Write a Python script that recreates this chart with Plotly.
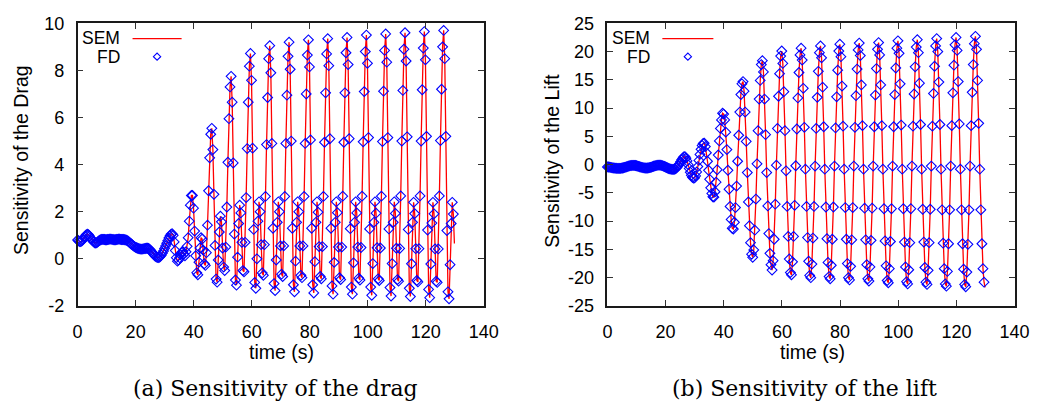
import numpy as np
import plotly.graph_objects as go

# Sampling interval of the stored time series (s)
DT = 0.37

# --- Sensitivity of the drag (SEM curve); FD samples coincide with it ---
drag_start = [
    0.80, 0.76, 0.73, 0.73, 0.76, 0.82, 0.89, 0.96, 1.02, 1.05, 1.03, 0.97, 0.90, 0.83, 0.77,
    0.72, 0.68, 0.67, 0.69, 0.73, 0.77, 0.80, 0.82,
    0.83, 0.83, 0.82, 0.81, 0.81, 0.82, 0.83, 0.84, 0.84, 0.83, 0.82, 0.81, 0.81, 0.82, 0.83,
    0.84, 0.84, 0.83, 0.82, 0.82, 0.82, 0.81,
    0.80, 0.78, 0.75, 0.71, 0.67, 0.63, 0.59, 0.55, 0.52, 0.49, 0.47, 0.45, 0.43, 0.42, 0.41,
    0.41, 0.42, 0.43, 0.44, 0.45, 0.45, 0.44, 0.41, 0.36, 0.30, 0.24, 0.18, 0.13, 0.09, 0.06, 0.05,
    0.06, 0.10, 0.16, 0.24, 0.33, 0.44, 0.55, 0.66, 0.77, 0.88, 0.97, 1.04, 1.07,
    1.00, 0.72, 0.35, 0.05, -0.10, -0.05, 0.05, 0.18, 0.28, 0.30, 0.20, 0.13, 0.30, 0.53, 0.90,
    1.60, 2.28, 2.69, 2.69, 2.15, 1.18, 0.13, -0.59, -0.68, -0.14, 0.46, 0.90, 0.84, 0.37, -0.21,
    -0.28, 0.26, 1.43, 2.89, 4.29, 5.29,
]
drag_cycles = [
    [5.54, 4.64, 2.74, 0.57, -0.86, -0.99, -0.05, 1.14, 1.81, 1.57, 0.46, -0.35, -0.50, 0.50, 2.20, 4.10, 5.95, 7.30],
    [7.75, 6.65, 4.07, 1.05, -0.90, -1.12, 0.07, 1.50, 2.28, 1.95, 0.70, -0.50, -0.55, 0.70, 2.60, 4.68, 6.65, 8.18],
    [8.72, 7.58, 4.70, 1.25, -1.00, -1.25, 0.00, 1.60, 2.42, 2.00, 0.60, -0.60, -0.70, 0.60, 2.65, 4.85, 6.85, 8.50],
    [9.05, 7.90, 4.90, 1.30, -1.05, -1.35, -0.05, 1.55, 2.42, 2.00, 0.55, -0.65, -0.75, 0.55, 2.65, 4.90, 6.95, 8.60],
    [9.20, 8.05, 5.00, 1.30, -1.10, -1.40, -0.10, 1.55, 2.42, 2.00, 0.55, -0.70, -0.80, 0.55, 2.65, 4.90, 7.00, 8.65],
    [9.30, 8.15, 5.05, 1.30, -1.10, -1.45, -0.12, 1.55, 2.42, 1.98, 0.52, -0.75, -0.85, 0.52, 2.65, 4.95, 7.05, 8.70],
    [9.35, 8.20, 5.10, 1.30, -1.15, -1.50, -0.15, 1.55, 2.42, 1.96, 0.50, -0.80, -0.88, 0.50, 2.66, 4.95, 7.05, 8.75],
    [9.40, 8.25, 5.10, 1.28, -1.20, -1.50, -0.17, 1.55, 2.42, 1.95, 0.50, -0.82, -0.90, 0.48, 2.66, 4.97, 7.10, 8.80],
    [9.50, 8.30, 5.15, 1.27, -1.20, -1.55, -0.20, 1.55, 2.42, 1.94, 0.47, -0.85, -0.92, 0.46, 2.66, 4.98, 7.12, 8.85],
    [9.55, 8.35, 5.15, 1.27, -1.22, -1.58, -0.20, 1.55, 2.42, 1.93, 0.45, -0.88, -0.95, 0.44, 2.67, 5.00, 7.15, 8.90],
    [9.60, 8.40, 5.18, 1.25, -1.25, -1.60, -0.21, 1.55, 2.40, 1.92, 0.43, -0.92, -0.98, 0.43, 2.67, 5.00, 7.18, 8.95],
    [9.65, 8.45, 5.20, 1.22, -1.30, -1.65, -0.22, 1.52, 2.40, 1.91, 0.42, -0.95, -1.00, 0.42, 2.67, 5.02, 7.20, 9.00],
    [9.70, 8.50, 5.20, 1.20, -1.40, -1.70, -0.25, 1.50, 2.40, 1.90, 0.65],
]

# --- Sensitivity of the lift (SEM curve); FD samples coincide with it ---
lift_start = [
    -0.40, -0.42, -0.45, -0.48, -0.52, -0.56, -0.60, -0.62, -0.64, -0.65,
    -0.66, -0.66, -0.65, -0.63, -0.60, -0.55, -0.50, -0.44, -0.37, -0.30,
    -0.24, -0.19, -0.16, -0.14, -0.13, -0.14, -0.16, -0.20, -0.25, -0.31,
    -0.37, -0.43, -0.48, -0.53, -0.57, -0.60, -0.61, -0.60, -0.58, -0.54,
    -0.49, -0.43, -0.36, -0.29, -0.23, -0.17, -0.13, -0.10, -0.09, -0.10,
    -0.13, -0.18, -0.25, -0.33, -0.42, -0.51, -0.60, -0.68, -0.75, -0.80,
    -0.84, -0.85, -0.82, -0.74, -0.60, -0.40, -0.15, 0.15, 0.50, 0.85,
    1.15, 1.38, 1.43,
    1.15, 0.65, 0.00, -0.70, -1.35, -1.90, -2.25, -2.40, -2.35, -2.00, -1.30, -0.35, 0.75,
    1.80, 2.70, 3.40, 3.75, 3.80, 3.20, 2.10, 0.60, -1.00, -2.60, -4.10, -5.10, -5.70, -5.75,
    -4.80, -3.10, -0.90, 1.70, 4.20, 6.40, 7.90, 9.10, 8.95, 7.90, 5.75, 2.67, -1.00, -4.35,
    -7.40, -9.70, -11.25, -11.40, -10.20, -7.60, -3.80, 0.60, 5.20, 9.30, 12.40,
]
lift_cycles = [
    [14.3, 14.7, 13.0, 9.3, 4.1, -1.4, -6.6, -10.8, -13.8, -15.85, -16.4, -15.1, -11.6, -6.1, 0.14, 6.0, 11.6, 14.9],
    [17.7, 18.4, 16.4, 11.6, 5.3, -1.4, -7.3, -12.2, -15.7, -17.7, -18.65, -17.0, -13.2, -7.0, -0.1, 6.4, 12.1, 16.1],
    [19.2, 20.1, 17.9, 12.9, 6.0, -1.1, -7.4, -12.7, -16.7, -19.1, -19.5, -17.2, -12.7, -7.2, -0.2, 6.3, 11.8, 16.3],
    [19.4, 20.6, 18.5, 13.5, 6.6, -0.8, -7.4, -12.9, -17.1, -19.6, -20.0, -17.6, -13.0, -7.4, -0.25, 6.4, 11.9, 16.5],
    [19.8, 21.0, 18.9, 13.7, 6.7, -0.8, -7.5, -13.1, -17.3, -19.8, -20.2, -17.8, -13.2, -7.5, -0.25, 6.5, 12.0, 16.7],
    [20.1, 21.3, 19.1, 13.9, 6.8, -0.8, -7.6, -13.2, -17.5, -20.0, -20.4, -18.0, -13.3, -7.6, -0.25, 6.6, 12.2, 16.9],
    [20.3, 21.5, 19.3, 14.1, 6.9, -0.8, -7.7, -13.3, -17.7, -20.2, -20.6, -18.1, -13.4, -7.7, -0.25, 6.7, 12.3, 17.0],
    [20.4, 21.6, 19.4, 14.1, 6.9, -0.8, -7.8, -13.5, -17.9, -20.5, -20.9, -18.4, -13.6, -7.8, -0.25, 6.7, 12.4, 17.1],
    [20.6, 21.9, 19.7, 14.3, 7.0, -0.8, -7.8, -13.7, -18.1, -20.7, -21.1, -18.6, -13.8, -7.8, -0.25, 6.8, 12.5, 17.3],
    [20.8, 22.1, 19.8, 14.4, 7.1, -0.8, -7.9, -13.7, -18.2, -20.8, -21.2, -18.7, -13.8, -7.9, -0.25, 6.8, 12.6, 17.4],
    [21.0, 22.3, 20.0, 14.6, 7.1, -0.8, -8.0, -13.9, -18.4, -21.1, -21.5, -18.9, -14.0, -8.0, -0.25, 6.9, 12.7, 17.6],
    [21.2, 22.5, 20.2, 14.7, 7.2, -0.8, -8.0, -14.0, -18.5, -21.2, -21.6, -19.0, -14.1, -8.0, -0.25, 6.9, 12.8, 17.7],
    [21.4, 22.7, 20.4, 14.9, 7.3, -0.8, -8.0, -14.0, -18.4, -20.8, -21.7],
]

# Axis ticks (gnuplot-style hyphen minus)
time_ticks = [0, 20, 40, 60, 80, 100, 120, 140]
drag_ticks = [-2, 0, 2, 4, 6, 8, 10]
lift_ticks = [-25, -20, -15, -10, -5, 0, 5, 10, 15, 20, 25]

drag_sem = drag_start + [v for c in drag_cycles for v in c]
lift_sem = lift_start + [v for c in lift_cycles for v in c]
t_sem = np.arange(len(drag_sem)) * DT
# FD evaluated on the same grid, last instant not computed
drag_fd = drag_sem[:-1]
lift_fd = lift_sem[:-1]
t_fd = t_sem[:-1]

W, H = 1060, 413
RED = "#ff0000"
BLUE = "#0000ff"
FONT = "Liberation Sans"

def px(x):
    return x / W

def py(y):
    return 1 - y / H

fig = go.Figure()

panels = [
    ("x", "y", drag_sem, drag_fd),
    ("x2", "y2", lift_sem, lift_fd),
]
for xa, ya, sem, fd in panels:
    fig.add_trace(go.Scatter(
        x=t_sem, y=sem, xaxis=xa, yaxis=ya, mode="lines",
        line=dict(color=RED, width=1.3), cliponaxis=False, showlegend=False,
    ))
    fig.add_trace(go.Scatter(
        x=t_fd, y=fd, xaxis=xa, yaxis=ya, mode="markers",
        marker=dict(symbol="diamond-open", size=7.5, color=BLUE, line=dict(width=1.1, color=BLUE)),
        cliponaxis=False, showlegend=False,
    ))

axis_common = dict(
    showline=True, linecolor="#1a1a1a", linewidth=1.5, mirror="ticks",
    ticks="inside", ticklen=6, tickwidth=1.2, tickcolor="#333333",
    showgrid=False, zeroline=False,
    tickfont=dict(family=FONT, size=18, color="black"),
)
ydom = [py(311), py(14)]
fig.update_layout(
    width=W, height=H,
    margin=dict(l=0, r=0, t=0, b=0),
    paper_bgcolor="white", plot_bgcolor="white",
    xaxis=dict(domain=[px(74), px(488)], range=[0, 140], anchor="y", ticklabelstandoff=9,
               tickvals=time_ticks, ticktext=[str(v) for v in time_ticks], **axis_common),
    yaxis=dict(domain=ydom, range=[-2, 10], anchor="x", ticklabelstandoff=8,
               tickvals=drag_ticks, ticktext=[str(v) for v in drag_ticks], **axis_common),
    xaxis2=dict(domain=[px(614), px(1029)], range=[0, 140], anchor="y2", ticklabelstandoff=9,
                tickvals=time_ticks, ticktext=[str(v) for v in time_ticks], **axis_common),
    yaxis2=dict(domain=ydom, range=[-25, 25], anchor="x2", ticklabelstandoff=8,
                tickvals=lift_ticks, ticktext=[str(v) for v in lift_ticks], **axis_common),
)

ann = []
def text(x, y, s, size=19.5, family=FONT, xanchor="center", angle=0, pad=1):
    ann.append(dict(x=px(x), y=py(y), xref="paper", yref="paper", text=s, showarrow=False,
                    xanchor=xanchor, yanchor="middle", textangle=angle, borderpad=pad,
                    font=dict(family=family, size=size, color="black")))

# axis titles
text(17, 158, "Sensitivity of the Drag", angle=-90)
text(558, 158, "Sensitivity of the Lift", angle=-90)
text(282, 359, "time (s)")
text(823, 359, "time (s)")
# sub-captions
text(276, 398, "(a) Sensitivity of the drag", size=22, family="DejaVu Serif")
text(815, 398, "(b) Sensitivity of the lift", size=22, family="DejaVu Serif")

# key entries (text right-aligned, sample to the right, as gnuplot draws them)
shapes = []
for x_txt, x0, x1 in [(118, 130, 180), (658, 670, 722)]:
    text(x_txt, 29.5, "SEM", size=17.5, xanchor="right", pad=0)
    text(x_txt, 49.5, "FD", size=17.5, xanchor="right", pad=0)
    shapes.append(dict(type="line", xref="paper", yref="paper",
                       x0=px(x0), x1=px(x1), y0=py(30), y1=py(30),
                       line=dict(color=RED, width=1.3)))
    cx, cy, r = (x0 + x1) / 2, 49, 3.7
    path = (f"M {px(cx - r)} {py(cy)} L {px(cx)} {py(cy - r)} "
            f"L {px(cx + r)} {py(cy)} L {px(cx)} {py(cy + r)} Z")
    shapes.append(dict(type="path", xref="paper", yref="paper", path=path,
                       line=dict(color=BLUE, width=1.1)))

fig.update_layout(annotations=ann, shapes=shapes)
fig.write_html("out.html")
